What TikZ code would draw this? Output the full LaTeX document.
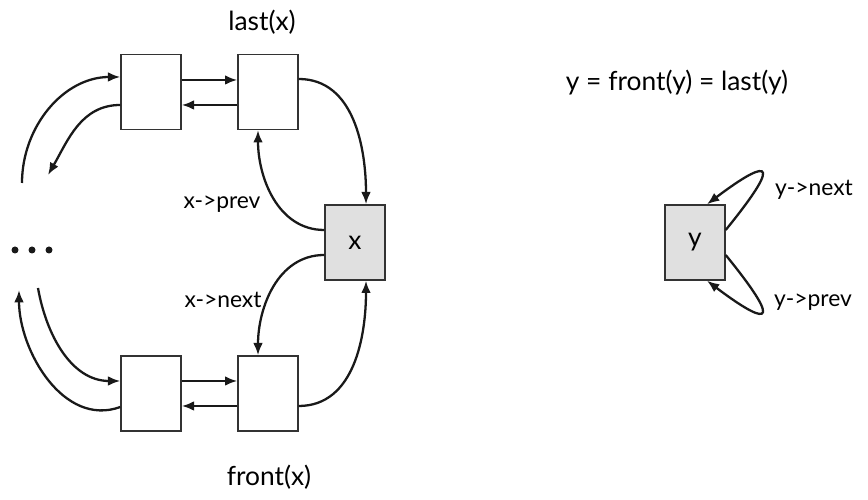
\documentclass[tikz,border=0pt]{standalone}
\usepackage{fontspec}
\setmainfont{Lato}
\usetikzlibrary{arrows.meta}
\definecolor{grisnodo}{HTML}{E0E0E0}
\definecolor{borde}{HTML}{333333}
\begin{document}
\begin{tikzpicture}[
    caja/.style={draw=borde, line width=0.8pt, minimum width=1.2cm, minimum height=1.5cm, inner sep=0pt, font=\fontsize{15}{18}\selectfont},
    flecha/.style={-{Latex[length=7pt,width=5.5pt]}, line width=1.3pt, black!90},
    punto/.style={circle, fill=black!90, inner sep=0pt, minimum size=0.14cm},
    etiqueta/.style={font=\fontsize{15}{18}\selectfont},
    puntero/.style={font=\fontsize{13}{16}\selectfont}
  ]
  \useasboundingbox (0,0) rectangle (17.36,10);

  % Lista de x: nodos de arriba y de abajo
  \node[caja] (a1) at (3.02, 8.16) {};
  \node[caja] (a2) at (5.36, 8.16) {};
  \node[caja] (b1) at (3.02, 2.13) {};
  \node[caja] (b2) at (5.36, 2.13) {};
  \node[caja, fill=grisnodo] (nx) at (7.10, 5.15) {x};

  % Resto de la lista
  \foreach \i/\px in {1/0.30, 2/0.64, 3/0.98}
    \node[punto] (p\i) at (\px, 5.00) {};
  \coordinate (c1) at (0.44, 6.34);
  \coordinate (c2) at (0.96, 6.50);
  \coordinate (c3) at (0.76, 4.24);
  \coordinate (c4) at (0.38, 4.20);

  % Etiquetas
  \node[etiqueta] (last) at (5.24, 9.56) {last(x)};
  \node[etiqueta] (front) at (5.38, 0.46) {front(x)};
  \node[puntero] (xprev) at (4.44, 5.92) {x->prev};
  \node[puntero] (xnext) at (4.46, 4.00) {x->next};

  % Enlaces de arriba
  \draw[flecha] (c1) to[out=90, in=180] ([yshift=0.3cm]a1.west);
  \draw[flecha] ([yshift=-0.26cm]a1.west) to[out=180, in=60] (c2);
  \draw[flecha] ([yshift=0.24cm]a1.east) -- ([yshift=0.24cm]a2.west);
  \draw[flecha] ([yshift=-0.26cm]a2.west) -- ([yshift=-0.26cm]a1.east);
  \draw[flecha] ([yshift=0.26cm]a2.east) to[out=0, in=90] ([xshift=0.22cm]nx.north);
  \draw[flecha] ([yshift=0.25cm]nx.west) to[out=180, in=-90] ([xshift=-0.2cm]a2.south);

  % Enlaces de abajo
  \draw[flecha] ([yshift=-0.25cm]nx.west) to[out=180, in=90] ([xshift=-0.2cm]b2.north);
  \draw[flecha] ([yshift=-0.25cm]b2.east) to[out=0, in=-90] ([xshift=0.22cm]nx.south);
  \draw[flecha] ([yshift=0.25cm]b1.east) -- ([yshift=0.25cm]b2.west);
  \draw[flecha] ([yshift=-0.25cm]b2.west) -- ([yshift=-0.25cm]b1.east);
  \draw[flecha] (c3) to[out=-80, in=180] ([yshift=0.25cm]b1.west);
  \draw[flecha] ([yshift=-0.27cm]b1.west) to[out=200, in=-90] (c4);

  % Lista de un solo nodo y
  \node[etiqueta] (igual) at (13.54, 8.34) {y = front(y) = last(y)};
  \node[caja, fill=grisnodo] (ny) at (13.90, 5.15) {y};
  \node[puntero] (ynext) at (16.28, 6.20) {y->next};
  \node[puntero] (yprev) at (16.26, 3.96) {y->prev};
  \draw[flecha] ([yshift=0.25cm]ny.east) .. controls +(1.3,1.6) and +(1.06,0.8) .. ([xshift=0.24cm]ny.north);
  \draw[flecha] ([yshift=-0.25cm]ny.east) .. controls +(1.3,-1.6) and +(1.06,-0.8) .. ([xshift=0.24cm]ny.south);
\end{tikzpicture}
\end{document}
